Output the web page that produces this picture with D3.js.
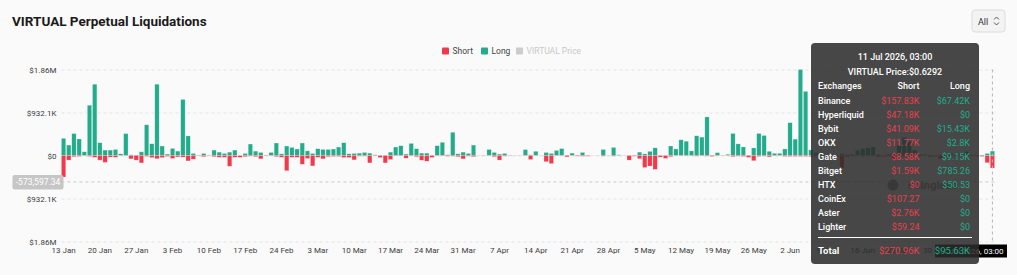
<!DOCTYPE html>
<html>
<head>
<meta charset="utf-8">
<script src="https://cdn.jsdelivr.net/npm/d3@7"></script>
<style>
  body { margin: 0; background: #fafafa; font-family: Roboto, "Noto Sans", sans-serif; }
  svg { display: block; }
</style>
</head>
<body>
<svg id="chart" width="1017" height="275"></svg>
<script>
// daily bars, 13 Jan 2026 .. 11 Jul 2026
const startDay = new Date(2026, 0, 13);
const dayCount = 180;

// long liquidations, thousands of USD
const longK = [
  372, 226, 475, 358, 80, 1090, 1545, 277, 117, 117,
  130, 36, 475, 15, 10, 80, 665, 255, 1545, 205,
  30, 153, 95, 1215, 424, 44, 8, 44, 8, 117,
  73, 44, 73, 117, 2, 44, 248, 95, 66, 5,
  66, 270, 36, 205, 175, 140, 270, 100, 44, 146,
  131, 131, 140, 183, 277, 36, 44, 51, 66, 51,
  15, 5, 5, 73, 183, 212, 30, 262, 146, 51,
  51, 2, 212, 285, 15, 504, 36, 73, 44, 226,
  3, 3, 131, 66, 30, 44, 5, 3, 3, 128,
  15, 92, 3, 66, 44, 110, 150, 5, 51, 2,
  66, 2, 3, 3, 131, 3, 175, 15, 3, 2,
  3, 73, 35, 90, 166, 3, 3, 206, 142, 340,
  310, 99, 427, 398, 836, 5, 62, 3, 26, 478,
  252, 186, 3, 164, 478, 434, 91, 47, 47, 142,
  712, 354, 1864.2, 1390, 120, 60, 30, 15, 20, 10,
  40, 20, 26, 110, 150, 165, 185, 20, 10, 30,
  60, 220, 390, 300, 120, 30, 20, 15, 10, 20,
  15, 40, 25, 30, 84, 20, 15, 10, 45, 95.63
];

// short liquidations, thousands of USD (drawn below zero)
const shortK = [
  467, 100, 25, 20, 5, 20, 40, 100, 150, 35,
  40, 5, 5, 73, 100, 160, 20, 45, 70, 45,
  20, 65, 30, 35, 117, 80, 5, 25, 5, 25,
  40, 40, 233, 40, 40, 25, 15, 25, 73, 10,
  10, 25, 40, 330, 40, 40, 190, 66, 226, 40,
  73, 25, 20, 20, 44, 44, 95, 15, 15, 160,
  5, 44, 160, 88, 10, 10, 58, 10, 25, 102,
  124, 44, 10, 10, 15, 15, 25, 73, 15, 25,
  3, 8, 8, 25, 100, 15, 8, 3, 3, 8,
  88, 8, 3, 135, 175, 8, 8, 30, 8, 15,
  15, 15, 2, 2, 15, 3, 15, 3, 3, 100,
  15, 70, 260, 228, 300, 35, 62, 25, 10, 10,
  10, 10, 15, 10, 15, 20, 5, 8, 8, 25,
  15, 20, 40, 113, 20, 15, 30, 10, 10, 20,
  20, 20, 20, 20, 25, 20, 15, 10, 40, 30,
  270, 30, 15, 10, 20, 10, 15, 30, 25, 20,
  90, 30, 20, 25, 40, 15, 10, 30, 20, 70,
  25, 10, 15, 20, 15, 10, 20, 20, 157, 270.96
];

const yTicks = [-1864200, -932100, 0, 932100, 1864200];
const pointerValue = -573597.34;

// tooltip content
const tipDate = "11 Jul 2026, 03:00";
const tipPrice = "VIRTUAL Price:$0.6292";
const exchanges = ["Binance", "Hyperliquid", "Bybit", "OKX", "Gate", "Bitget", "HTX", "CoinEx", "Aster", "Lighter"];
const exShort = ["$157.83K", "$47.18K", "$41.09K", "$11.77K", "$8.58K", "$1.59K", "$0", "$107.27", "$2.76K", "$59.24"];
const exLong = ["$67.42K", "$0", "$15.43K", "$2.8K", "$9.15K", "$785.26", "$50.53", "$0", "$0", "$0"];
const totalShort = "$270.96K";
const totalLong = "$95.63K";

const RED = "#f0394b";
const GREEN = "#22ac8c";

const svg = d3.select("#chart");
const days = d3.timeDay.range(startDay, d3.timeDay.offset(startDay, dayCount));

const x = d3.scaleBand().domain(days).range([61.4, 994.6]).paddingInner(0.16);
const y = d3.scaleLinear().domain([-1864200, 1864200]).range([241.5, 69.5]);

// title
svg.append("text")
  .attr("x", 12).attr("y", 26)
  .attr("font-size", 13.5).attr("font-weight", 700).attr("fill", "#1a1a1a")
  .text("VIRTUAL Perpetual Liquidations");

// "All" select
let sel = svg.append("g").attr("transform", "translate(972,10)");
sel.append("rect").attr("width", 33).attr("height", 22).attr("rx", 3)
  .attr("fill", "#f3f3f3").attr("stroke", "#dcdcdc");
sel.append("text").attr("x", 6).attr("y", 14.5).attr("font-size", 9).attr("fill", "#333").text("All");
sel.append("path").attr("d", "M22,9.5 L24.5,7 L27,9.5 M22,12.5 L24.5,15 L27,12.5")
  .attr("fill", "none").attr("stroke", "#555").attr("stroke-width", 1);

// legend
const legend = [
  { name: "Short", color: RED, text: "#444", x: 442 },
  { name: "Long", color: GREEN, text: "#444", x: 481 },
  { name: "VIRTUAL Price", color: "#cccccc", text: "#c8c8c8", x: 516 }
];
let lg = svg.append("g").selectAll("g").data(legend).enter().append("g")
  .attr("transform", function(d) { return "translate(" + d.x + ",47.5)"; });
lg.append("rect").attr("width", 7).attr("height", 7).attr("rx", 1).attr("fill", function(d) { return d.color; });
lg.append("text").attr("x", 10.5).attr("y", 6.6).attr("font-size", 8.5)
  .attr("fill", function(d) { return d.text; }).text(function(d) { return d.name; });

// y axis + grid
function money(v) {
  const a = Math.abs(v);
  if (a >= 1e6) return "$" + (a / 1e6).toFixed(2) + "M";
  if (a >= 1e3) return "$" + (+(a / 1e3).toFixed(1)) + "K";
  return "$" + a;
}
let yAxis = svg.append("g")
  .attr("transform", "translate(61.4,0)")
  .call(d3.axisLeft(y).tickValues(yTicks).tickFormat(money).tickSize(-933.2).tickPadding(5));
yAxis.select(".domain").remove();
yAxis.selectAll(".tick line").attr("stroke", "#e4e4e4").attr("stroke-dasharray", "3,3");
yAxis.selectAll(".tick text").attr("font-size", 8).attr("fill", "#3a3a3a").attr("font-family", "Roboto, sans-serif");

// x axis
const fmtDay = d3.timeFormat("%-d %b");
let xAxis = svg.append("g")
  .attr("transform", "translate(0,245)")
  .call(d3.axisBottom(x).tickValues(days.filter(function(d, i) { return i % 7 == 0; }))
    .tickFormat(fmtDay).tickSize(0).tickPadding(2));
xAxis.select(".domain").remove();
xAxis.selectAll(".tick text").attr("font-size", 8).attr("fill", "#3a3a3a").attr("font-family", "Roboto, sans-serif");

// bars
let bars = svg.append("g");
bars.selectAll(".long").data(days).enter().append("rect")
  .attr("class", "long")
  .attr("x", function(d) { return x(d); })
  .attr("width", x.bandwidth())
  .attr("y", function(d, i) { return y(longK[i] * 1000); })
  .attr("height", function(d, i) { return y(0) - y(longK[i] * 1000); })
  .attr("fill", GREEN).attr("stroke", "rgba(255,255,255,0.45)").attr("stroke-width", 0.5);
bars.selectAll(".short").data(days).enter().append("rect")
  .attr("class", "short")
  .attr("x", function(d) { return x(d); })
  .attr("width", x.bandwidth())
  .attr("y", y(0))
  .attr("height", function(d, i) { return y(-shortK[i] * 1000) - y(0); })
  .attr("fill", RED).attr("stroke", "rgba(255,255,255,0.45)").attr("stroke-width", 0.5);

// watermark
let wm = svg.append("g").attr("transform", "translate(887,185)").attr("fill", "#8a8a8a");
wm.append("circle").attr("cx", 6).attr("cy", 0).attr("r", 5.5);
wm.append("text").attr("x", 21).attr("y", 4).attr("font-size", 11.5).attr("font-weight", 700).text("coinglass");

// axis pointers
const lastDay = days[days.length - 1];
const px = x(lastDay) + x.bandwidth() / 2;
svg.append("line").attr("x1", px).attr("x2", px).attr("y1", 69.5).attr("y2", 241.5)
  .attr("stroke", "#b5b5b5").attr("stroke-dasharray", "3,3");
svg.append("line").attr("x1", 61.4).attr("x2", 994.6).attr("y1", y(pointerValue)).attr("y2", y(pointerValue))
  .attr("stroke", "#c8c8c8").attr("stroke-dasharray", "3,3");
let yp = svg.append("g").attr("transform", "translate(12.5," + (y(pointerValue) - 7) + ")");
yp.append("rect").attr("width", 51).attr("height", 14.5).attr("rx", 2).attr("fill", "#c6c6c6");
yp.append("text").attr("x", 25.5).attr("y", 10.3).attr("text-anchor", "middle")
  .attr("font-size", 8.5).attr("fill", "#fff").text("-" + d3.format(",.2f")(Math.abs(pointerValue)));
let xp = svg.append("g").attr("transform", "translate(935,244.5)");
xp.append("rect").attr("width", 72).attr("height", 13).attr("fill", "#000");
xp.append("text").attr("x", 36).attr("y", 9.5).attr("text-anchor", "middle")
  .attr("font-size", 8).attr("fill", "#fff").text(tipDate);

// tooltip
let tip = svg.append("g").attr("transform", "translate(811,43)");
tip.append("rect").attr("width", 168).attr("height", 221).attr("rx", 4)
  .attr("fill", "rgba(44,44,44,0.87)");
tip.append("text").attr("x", 84).attr("y", 16.5).attr("text-anchor", "middle")
  .attr("font-size", 9).attr("font-weight", 500).attr("fill", "#fff").text(tipDate);
tip.append("text").attr("x", 84).attr("y", 31.5).attr("text-anchor", "middle")
  .attr("font-size", 9).attr("font-weight", 500).attr("fill", "#fff").text(tipPrice);

let head = tip.append("g").attr("font-size", 9).attr("font-weight", 500).attr("fill", "#fff");
head.append("text").attr("x", 7).attr("y", 45.5).text("Exchanges");
head.append("text").attr("x", 108.5).attr("y", 45.5).attr("text-anchor", "end").text("Short");
head.append("text").attr("x", 159).attr("y", 45.5).attr("text-anchor", "end").text("Long");

let rows = tip.selectAll(".row").data(exchanges).enter().append("g")
  .attr("class", "row")
  .attr("transform", function(d, i) { return "translate(0," + (60.5 + i * 14.1) + ")"; })
  .attr("font-size", 9);
rows.append("text").attr("x", 7).attr("font-weight", 500).attr("fill", "#fff").text(function(d) { return d; });
rows.append("text").attr("x", 108.5).attr("text-anchor", "end").attr("fill", "#e8404f")
  .text(function(d, i) { return exShort[i]; });
rows.append("text").attr("x", 159).attr("text-anchor", "end").attr("fill", "#20ad8c")
  .text(function(d, i) { return exLong[i]; });

tip.append("line").attr("x1", 7).attr("x2", 161).attr("y1", 194.5).attr("y2", 194.5)
  .attr("stroke", "#fff").attr("stroke-width", 1);
let tot = tip.append("g").attr("font-size", 9.5).attr("transform", "translate(0,211)");
tot.append("text").attr("x", 7).attr("font-weight", 700).attr("fill", "#fff").text("Total");
tot.append("text").attr("x", 108.5).attr("text-anchor", "end").attr("fill", "#e8404f").text(totalShort);
tot.append("text").attr("x", 159).attr("text-anchor", "end").attr("fill", "#20ad8c").text(totalLong);
</script>
</body>
</html>
